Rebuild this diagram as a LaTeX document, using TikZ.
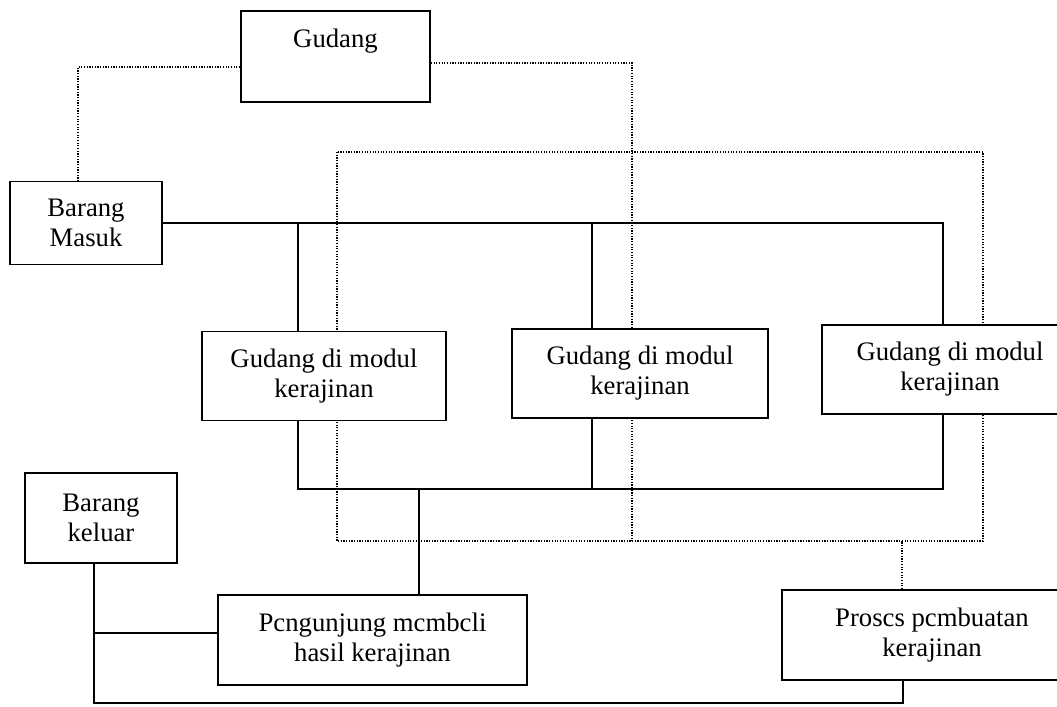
\documentclass[tikz,border=0pt]{standalone}
\usepackage{fontspec}
\setmainfont{Liberation Serif}
\usetikzlibrary{backgrounds}

\begin{document}
\begin{tikzpicture}[x=0.025cm, y=-0.025cm, font=\fontsize{19}{21.3}\selectfont]

\tikzstyle{gudang box} = [rectangle, text centered, align=center, draw=black, fill=white, line width=1.2pt, inner sep=0pt]
\tikzstyle{modul box} = [gudang box, minimum height=2.22cm]
\tikzstyle{barang box} = [gudang box, minimum width=3.8cm]
\tikzstyle{kegiatan box} = [gudang box, minimum height=2.25cm]

\tikzstyle{solidline} = [line width=1.4pt]
\tikzstyle{dotline} = [densely dotted, line width=0.9pt]

\useasboundingbox (0,0) rectangle (1057,707);

\node (gudang) [gudang box, minimum width=4.725cm, text height=0.925cm, text depth=1.35cm] at (335.5,56.5) {Gudang};
\node (masuk) [barang box, minimum height=2.075cm] at (86,223) {Barang\\Masuk};
\node (modul1) [modul box, minimum width=6.1cm] at (324,376) {Gudang di modul\\kerajinan};
\node (modul2) [modul box, minimum width=6.4cm] at (640,373.5) {Gudang di modul\\kerajinan};
\node (modul3) [modul box, minimum width=6.4cm] at (950,369.5) {Gudang di modul\\kerajinan};
\node (keluar) [barang box, minimum height=2.25cm] at (101,518) {Barang\\keluar};
\node (beli) [kegiatan box, minimum width=7.725cm] at (372.5,640) {Pcngunjung mcmbcli\\hasil kerajinan};
\node (proses) [kegiatan box, minimum width=7.5cm] at (932,635) {Proscs pcmbuatan\\kerajinan};

\coordinate (dtl) at (337,152);
\coordinate (dbr) at (983,541);
\coordinate (dmid) at (632,541);
\coordinate (lowbus) at (600,489);
\coordinate (botline) at (500,703);

% dotted links run behind the boxes
\begin{scope}[on background layer]
\draw [dotline] ([yshift=-0.26cm]gudang.west) -| ([xshift=-0.2cm]masuk.north);
\draw [dotline] ([yshift=-0.16cm]gudang.east) -| (dmid);
\draw [dotline] (dtl) rectangle (dbr);
\coordinate (pdot) at ([xshift=-0.75cm]proses.north);
\draw [dotline] (pdot) -- (pdot |- dbr);
\end{scope}

\coordinate (m1top) at ([xshift=-0.65cm]modul1.north);
\coordinate (m2top) at ([xshift=-1.2cm]modul2.north);
\coordinate (m3top) at ([xshift=-0.175cm]modul3.north);
\coordinate (m1bot) at ([xshift=-0.65cm]modul1.south);
\coordinate (m2bot) at ([xshift=-1.2cm]modul2.south);
\coordinate (m3bot) at ([xshift=-0.175cm]modul3.south);
\coordinate (belitop) at ([xshift=1.16cm]beli.north);
\coordinate (belileft) at ([yshift=0.175cm]beli.west);
\coordinate (kdrop) at ([xshift=-0.175cm]keluar.south);
\coordinate (pdrop) at ([xshift=-0.725cm]proses.south);

\draw [solidline] (masuk.east) -| (m3top);
\draw [solidline] (m1top) -- (m1top |- masuk.east);
\draw [solidline] (m2top) -- (m2top |- masuk.east);
\draw [solidline] (m1bot) |- (lowbus) -| (m3bot);
\draw [solidline] (m2bot) -- (m2bot |- lowbus);
\draw [solidline] (belitop) -- (belitop |- lowbus);
\draw [solidline] (kdrop) |- (botline) -| (pdrop);
\draw [solidline] (belileft) -- (belileft -| kdrop);

\end{tikzpicture}
\end{document}
